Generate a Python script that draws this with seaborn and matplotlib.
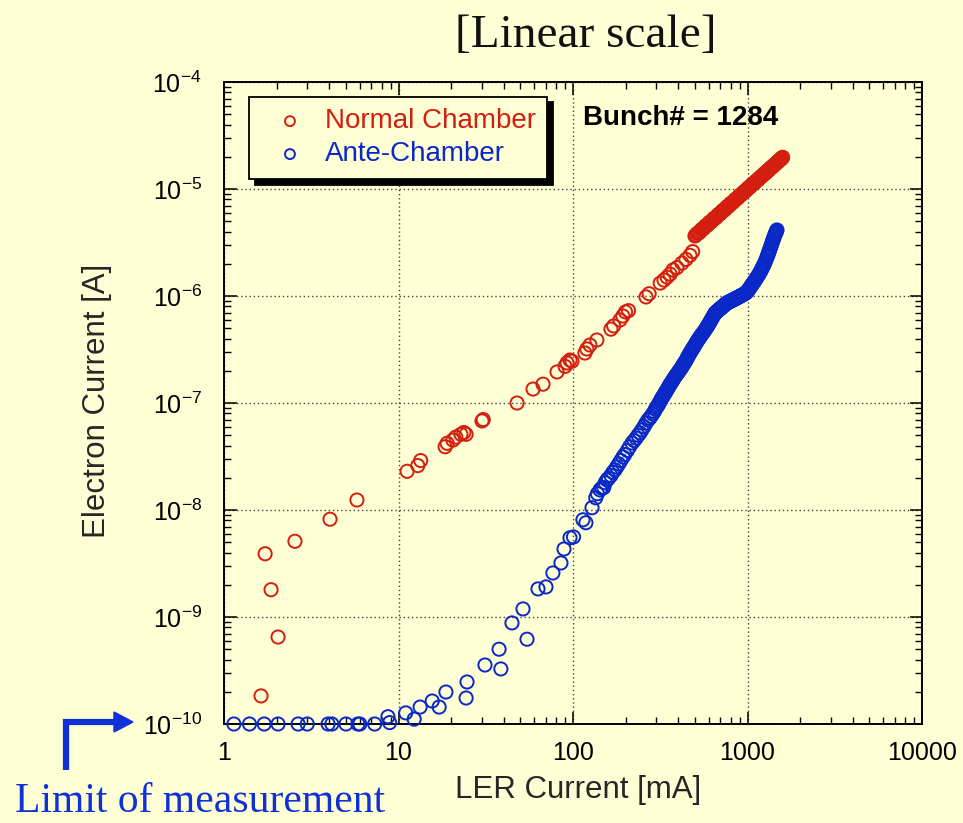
import matplotlib
matplotlib.use("Agg")
import matplotlib.pyplot as plt
import seaborn as sns
import pandas as pd
from matplotlib.lines import Line2D
from matplotlib.patches import Polygon

# ---------------- data ----------------
normal_current_mA = [
    1.63, 1.72, 1.86, 2.04, 2.55, 4.05, 5.78, 11.2, 12.9, 13.4,
    18.5, 19.0, 20.5, 21.3, 22.8, 23.7, 24.4, 30.1, 30.6, 47.8,
    59.0, 67.3, 81.0, 90.0, 92.4, 96.1, 98.6, 117, 120, 125,
    137, 165, 171, 186, 193, 200, 208, 262, 273, 316,
    332, 346, 360, 374, 394, 421, 444, 468, 485,
    500, 515, 530, 545, 560, 575, 590, 605, 620, 640,
    660, 680, 700, 720, 740, 760, 780, 800, 825, 850,
    875, 900, 925, 950, 975, 1000, 1030, 1060, 1090, 1120,
    1150, 1180, 1210, 1240, 1270, 1300, 1330, 1360, 1390, 1420,
    1450, 1480, 1510, 1540, 1570, 1590,
    507, 522, 537, 552, 567, 582, 597, 612, 630, 650,
    670, 690, 710, 730, 750, 770, 790, 812, 837, 862,
    887, 912, 937, 962, 987, 1015, 1045, 1075, 1105, 1135,
    1165, 1195, 1225, 1255, 1285, 1315, 1345, 1375, 1405, 1435,
    1465, 1495, 1525, 1555, 1580,
]
normal_electron_A = [
    1.83e-10, 3.9e-9, 1.8e-9, 6.5e-10, 5.1e-9, 8.2e-9, 1.24e-8, 2.3e-8, 2.6e-8, 2.9e-8,
    3.9e-8, 4.2e-8, 4.5e-8, 4.8e-8, 5.1e-8, 5.3e-8, 5.1e-8, 6.8e-8, 7.0e-8, 1.0e-7,
    1.35e-7, 1.5e-7, 1.95e-7, 2.2e-7, 2.37e-7, 2.52e-7, 2.46e-7, 2.93e-7, 3.2e-7, 3.48e-7,
    3.88e-7, 4.9e-7, 5.25e-7, 5.97e-7, 6.5e-7, 7.1e-7, 7.3e-7, 9.8e-7, 1.05e-6, 1.32e-6,
    1.41e-6, 1.5e-6, 1.6e-6, 1.75e-6, 1.84e-6, 2.03e-6, 2.2e-6, 2.4e-6, 2.6e-6,
    3.64e-6, 3.85e-6, 3.92e-6, 4.18e-6, 4.26e-6, 4.52e-6, 4.60e-6, 4.88e-6, 4.95e-6, 5.30e-6,
    5.40e-6, 5.78e-6, 5.90e-6, 6.28e-6, 6.40e-6, 6.80e-6, 6.92e-6, 7.32e-6, 7.50e-6, 7.98e-6,
    8.18e-6, 8.68e-6, 8.88e-6, 9.38e-6, 9.60e-6, 1.01e-5, 1.04e-5, 1.10e-5, 1.13e-5, 1.19e-5,
    1.22e-5, 1.28e-5, 1.32e-5, 1.38e-5, 1.41e-5, 1.48e-5, 1.51e-5, 1.58e-5, 1.61e-5, 1.68e-5,
    1.72e-5, 1.78e-5, 1.83e-5, 1.88e-5, 1.94e-5, 1.98e-5,
    3.72e-6, 3.88e-6, 4.05e-6, 4.22e-6, 4.38e-6, 4.55e-6, 4.72e-6, 4.90e-6, 5.10e-6, 5.34e-6,
    5.58e-6, 5.82e-6, 6.08e-6, 6.32e-6, 6.58e-6, 6.84e-6, 7.10e-6, 7.40e-6, 7.73e-6, 8.07e-6,
    8.42e-6, 8.76e-6, 9.11e-6, 9.47e-6, 9.83e-6, 1.023e-5, 1.067e-5, 1.113e-5, 1.158e-5, 1.205e-5,
    1.252e-5, 1.299e-5, 1.347e-5, 1.395e-5, 1.444e-5, 1.494e-5, 1.544e-5, 1.595e-5, 1.646e-5, 1.697e-5,
    1.749e-5, 1.801e-5, 1.855e-5, 1.908e-5, 1.95e-5,
]

ante_current_mA = [
    1.14, 1.40, 1.70, 2.04, 2.66, 3.0, 3.95, 4.15, 5.0, 5.85, 6.0, 7.3,
    8.7, 8.9, 11.0, 12.3, 13.3, 15.6, 17.1, 18.7, 24.4, 24.7,
    31.3, 37.7, 38.6, 44.7, 51.7, 54.5, 63.0, 70.0, 76.7, 85.3,
    88.8, 96.1, 100.7, 114, 118.6, 128.5, 135, 142.8, 150, 156.6,
    165, 174, 183, 193.5, 205, 218, 230, 242, 255, 269,
    280, 292, 303, 312, 320, 328, 337, 346, 355, 364,
    374, 385, 397, 409, 421, 432, 444, 456, 468, 480,
    493, 506, 520, 535, 550, 568, 586, 602, 618, 635,
    651, 670, 690, 710, 735, 763, 790, 815, 843, 871,
    900, 930, 962, 993, 1015, 1035, 1055, 1076, 1100, 1125,
    1152, 1181, 1205, 1230, 1260, 1294, 1315, 1335, 1358, 1381,
    1400, 1420, 1440, 1460, 1475,
    138, 146, 153, 160, 169, 178, 188, 198, 211, 224,
    236, 248, 262, 275, 286, 297,
    660, 680, 700, 722, 749, 776, 802, 829, 857, 885,
    915, 946, 978,
    308, 316, 324, 332, 341, 350, 359, 369, 379, 391,
    403, 415, 426, 438, 450, 462, 474, 486, 499, 513,
    527, 542, 559, 577, 594, 610, 626, 643,
    655, 665, 675, 685, 695, 705, 716, 729, 742, 756,
    770, 783, 796, 809, 822, 836, 850, 864, 878, 893,
    908, 923, 938, 954, 970, 985,
    1004, 1025, 1045, 1065, 1088, 1112, 1138, 1166, 1193, 1217,
    1245, 1277, 1305, 1325, 1347, 1370, 1390, 1410, 1430, 1450,
    1468,
]
ante_electron_A = [
    1e-10, 1e-10, 1e-10, 1e-10, 1e-10, 1e-10, 1e-10, 1e-10, 1e-10, 1e-10, 1e-10, 1e-10,
    1.17e-10, 1.03e-10, 1.27e-10, 1.11e-10, 1.44e-10, 1.64e-10, 1.44e-10, 1.99e-10, 1.75e-10, 2.47e-10,
    3.56e-10, 5.0e-10, 3.27e-10, 8.8e-10, 1.19e-9, 6.2e-10, 1.83e-9, 1.91e-9, 2.58e-9, 3.2e-9,
    4.32e-9, 5.5e-9, 5.6e-9, 8.1e-9, 7.6e-9, 1.05e-8, 1.3e-8, 1.54e-8, 1.62e-8, 1.91e-8,
    2.1e-8, 2.37e-8, 2.7e-8, 3.13e-8, 3.6e-8, 4.23e-8, 4.7e-8, 5.25e-8, 6.0e-8, 6.94e-8,
    7.5e-8, 8.3e-8, 9.2e-8, 1.0e-7, 1.08e-7, 1.15e-7, 1.24e-7, 1.33e-7, 1.43e-7, 1.53e-7,
    1.64e-7, 1.77e-7, 1.89e-7, 2.03e-7, 2.17e-7, 2.33e-7, 2.5e-7, 2.72e-7, 2.93e-7, 3.13e-7,
    3.35e-7, 3.6e-7, 3.88e-7, 4.14e-7, 4.42e-7, 4.75e-7, 5.13e-7, 5.52e-7, 5.95e-7, 6.43e-7,
    6.9e-7, 7.2e-7, 7.5e-7, 7.8e-7, 8.2e-7, 8.6e-7, 8.85e-7, 9.1e-7, 9.35e-7, 9.6e-7,
    9.9e-7, 1.02e-6, 1.05e-6, 1.09e-6, 1.15e-6, 1.2e-6, 1.26e-6, 1.32e-6, 1.39e-6, 1.47e-6,
    1.56e-6, 1.67e-6, 1.78e-6, 1.9e-6, 2.07e-6, 2.31e-6, 2.48e-6, 2.67e-6, 2.88e-6, 3.13e-6,
    3.33e-6, 3.55e-6, 3.78e-6, 3.98e-6, 4.14e-6,
    1.42e-8, 1.6e-8, 1.8e-8, 1.98e-8, 2.25e-8, 2.52e-8, 2.9e-8, 3.3e-8, 3.9e-8, 4.45e-8,
    5.0e-8, 5.6e-8, 6.5e-8, 7.2e-8, 7.9e-8, 8.8e-8,
    7.05e-7, 7.35e-7, 7.65e-7, 8.0e-7, 8.4e-7, 8.75e-7, 8.98e-7, 9.22e-7, 9.48e-7, 9.75e-7,
    1.005e-6, 1.035e-6, 1.07e-6,
    9.6e-8, 1.04e-7, 1.12e-7, 1.19e-7, 1.28e-7, 1.38e-7, 1.48e-7, 1.58e-7, 1.7e-7, 1.83e-7,
    1.96e-7, 2.1e-7, 2.25e-7, 2.41e-7, 2.6e-7, 2.82e-7, 3.03e-7, 3.24e-7, 3.47e-7, 3.74e-7,
    4.0e-7, 4.28e-7, 4.58e-7, 4.94e-7, 5.32e-7, 5.73e-7, 6.18e-7, 6.66e-7,
    6.97e-7, 7.12e-7, 7.28e-7, 7.43e-7, 7.58e-7, 7.72e-7, 7.9e-7, 8.1e-7, 8.3e-7, 8.5e-7,
    8.68e-7, 8.8e-7, 8.92e-7, 9.04e-7, 9.16e-7, 9.28e-7, 9.42e-7, 9.55e-7, 9.68e-7, 9.82e-7,
    9.97e-7, 1.012e-6, 1.027e-6, 1.043e-6, 1.06e-6, 1.08e-6,
    1.12e-6, 1.17e-6, 1.23e-6, 1.29e-6, 1.35e-6, 1.43e-6, 1.51e-6, 1.61e-6, 1.72e-6, 1.84e-6,
    1.98e-6, 2.18e-6, 2.39e-6, 2.57e-6, 2.77e-6, 3.0e-6, 3.23e-6, 3.44e-6, 3.66e-6, 3.88e-6,
    4.06e-6,
]

series_labels = ["Normal Chamber", "Ante-Chamber"]
x_tick_values = [1, 10, 100, 1000, 10000]
x_tick_labels = ["1", "10", "100", "1000", "10000"]

# ---------------- style ----------------
BG = "#FFFFD5"
RED = "#D41E10"
BLUE = "#0A28C8"
ARROW_BLUE = "#1030D8"

sns.set_style("ticks", {"axes.facecolor": BG, "figure.facecolor": BG})
plt.rcParams["font.family"] = ["Liberation Sans", "DejaVu Sans"]
plt.rcParams["mathtext.default"] = "regular"
plt.rcParams["axes.unicode_minus"] = False

fig = plt.figure(figsize=(9.63, 8.23), dpi=100, facecolor=BG)
ax = fig.add_axes([224 / 963, 1 - 724 / 823, 698 / 963, 642 / 823])
ax.set_facecolor(BG)

df_n = pd.DataFrame({"current": normal_current_mA, "electron": normal_electron_A})
df_a = pd.DataFrame({"current": ante_current_mA, "electron": ante_electron_A})

ax.set_xscale("log")
ax.set_yscale("log")

sns.scatterplot(data=df_a, x="current", y="electron", ax=ax, marker="o", s=90,
                color=BLUE, facecolor="none", edgecolor=BLUE, linewidth=1.4,
                label=series_labels[1], clip_on=False, zorder=3)
sns.scatterplot(data=df_n, x="current", y="electron", ax=ax, marker="o", s=90,
                color=RED, facecolor="none", edgecolor=RED, linewidth=1.4,
                label=series_labels[0], clip_on=False, zorder=4)

ax.set_xlim(1, 10000)
ax.set_ylim(1e-10, 1e-4)
ax.set_xticks(x_tick_values)
ax.set_xticklabels(x_tick_labels)

ax.grid(which="major", linestyle=(0, (1, 2)), color="#444444", linewidth=1.0)
ax.grid(which="minor", visible=False)
ax.tick_params(which="both", direction="in", top=True, right=True, colors="black")
ax.tick_params(which="major", length=9, width=1.1, labelsize=18, pad=12)
ax.tick_params(which="minor", length=5, width=1.0)
ax.tick_params(axis="y", which="major", pad=16)
for sp in ax.spines.values():
    sp.set_color("black")
    sp.set_linewidth(1.4)

ax.set_xlabel("LER Current [mA]", fontsize=22.5)
ax.set_ylabel("Electron Current [A]", fontsize=22.5)
ax.xaxis.set_label_coords(0.507, -0.08)
ax.yaxis.set_label_coords(-0.160, 0.503)

# legend
handles, labels = ax.get_legend_handles_labels()
order = [labels.index(series_labels[0]), labels.index(series_labels[1])]
leg = ax.legend([handles[i] for i in order], [labels[i] for i in order],
                loc="upper left", bbox_to_anchor=(0.036, 0.977), borderaxespad=0,
                fontsize=20, frameon=True, fancybox=False, framealpha=1,
                facecolor=BG, edgecolor="black", markerscale=0.75,
                handlelength=2.1, handletextpad=0.2, labelspacing=0.25,
                borderpad=0.42, shadow={"color": "black", "alpha": 1, "ox": 4, "oy": -4})
leg.get_frame().set_linewidth(1.3)
for txt, c in zip(leg.get_texts(), [RED, BLUE]):
    txt.set_color(c)

# texts
fig.text(583 / 963, 1 - 118 / 823, "Bunch# = 1284", fontsize=20, fontweight="bold",
         ha="left", va="center", color="black")
fig.text(586 / 963, 1 - 47 / 823, "[Linear scale]", fontsize=34, ha="center",
         va="baseline", family=["Liberation Serif", "DejaVu Serif"], color="#111111")
fig.text(15 / 963, 2 / 823, "Limit of measurement", fontsize=30, ha="left",
         va="bottom", family=["Liberation Serif", "DejaVu Serif"], color=ARROW_BLUE)

# bent arrow pointing at the lower limit
W, H = 963, 823
fig.add_artist(Line2D([66 / W, 66 / W, 118 / W], [1 - 770 / H, 1 - 722 / H, 1 - 722 / H],
                      transform=fig.transFigure, color=ARROW_BLUE, linewidth=4.5,
                      solid_joinstyle="miter", solid_capstyle="butt"))
fig.add_artist(Polygon([[114 / W, 1 - 712 / H], [133 / W, 1 - 722 / H], [114 / W, 1 - 732 / H]],
                       closed=True, transform=fig.transFigure, color=ARROW_BLUE))

fig.savefig("out.png", dpi=100, facecolor=BG)
